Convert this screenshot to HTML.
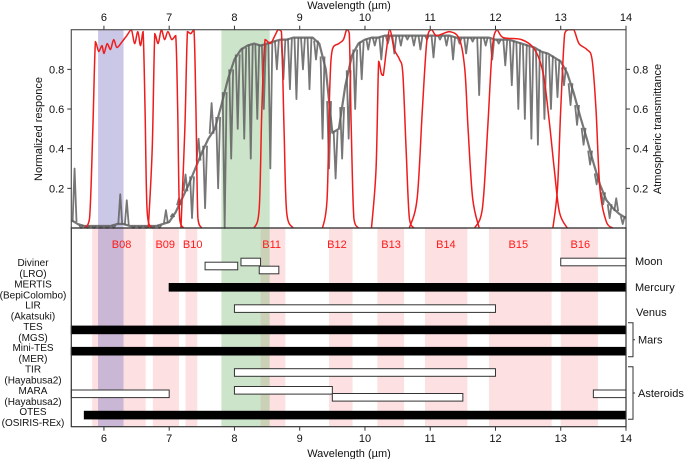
<!DOCTYPE html>
<html><head><meta charset="utf-8">
<style>
html,body{margin:0;padding:0;background:#fff;}
svg{display:block;font-family:"Liberation Sans",sans-serif;}
</style></head>
<body>
<svg id="chart" width="685" height="459" viewBox="0 0 685 459" xmlns="http://www.w3.org/2000/svg"></svg>
<script>
// ---- data ----
const xTicks = [6,7,8,9,10,11,12,13,14];
const yTicks = [0.2,0.4,0.6,0.8];
const bandNames = ["B08","B09","B10","B11","B12","B13","B14","B15","B16"];
const bandStart = [5.82,6.75,7.25,8.40,9.45,10.19,10.92,11.90,13.00];
const bandEnd   = [6.64,7.15,7.43,8.78,9.81,10.60,11.57,12.86,13.57];
const bandLabelX = [6.27,6.94,7.36,8.57,9.57,10.40,11.24,12.35,13.30];
const purpleBand = [5.91,6.30];
const greenBand = [7.80,8.54];

const atmWl = [5.5,5.6,5.7,5.8,5.9,6.0,6.1,6.2,6.3,6.4,6.5,6.6,6.7,6.8,6.9,7.0,7.1,7.2,7.3,7.4,7.5,7.6,7.7,7.8,7.9,8.0,8.1,8.2,8.3,8.4,8.5,8.6,8.7,8.8,8.9,9.0,9.1,9.2,9.3,9.4,9.5,9.6,9.7,9.8,9.9,10.0,10.1,10.2,10.3,10.4,10.5,10.6,10.7,10.8,10.9,11.0,11.1,11.2,11.3,11.4,11.5,11.6,11.7,11.8,11.9,12.0,12.1,12.2,12.3,12.4,12.5,12.6,12.7,12.8,12.9,13.0,13.1,13.2,13.3,13.4,13.5,13.6,13.7,13.8,13.9,14.0];
const atmHi = [0.04,0.02,0.01,0.01,0.01,0.01,0.01,0.02,0.02,0.01,0.01,0.01,0.01,0.01,0.02,0.03,0.08,0.15,0.22,0.30,0.38,0.45,0.50,0.62,0.75,0.85,0.90,0.92,0.93,0.92,0.93,0.94,0.95,0.95,0.96,0.96,0.96,0.96,0.93,0.80,0.48,0.50,0.72,0.87,0.93,0.95,0.96,0.96,0.97,0.97,0.97,0.97,0.97,0.97,0.97,0.97,0.97,0.97,0.97,0.96,0.96,0.96,0.96,0.96,0.96,0.95,0.95,0.95,0.94,0.93,0.92,0.91,0.89,0.88,0.86,0.84,0.78,0.68,0.56,0.45,0.33,0.22,0.14,0.10,0.07,0.05];
const atmLo = [0.30,0.00,0.00,0.00,0.00,0.00,0.00,0.17,0.14,0.00,0.00,0.00,0.00,0.00,0.09,0.07,0.15,0.27,0.05,0.45,0.10,0.63,0.20,0.00,0.35,0.50,0.45,0.35,0.55,0.60,0.30,0.80,0.75,0.70,0.65,0.80,0.70,0.85,0.45,0.30,0.25,0.35,0.45,0.60,0.75,0.90,0.92,0.85,0.93,0.88,0.92,0.95,0.92,0.90,0.95,0.86,0.95,0.92,0.85,0.93,0.88,0.94,0.67,0.92,0.85,0.93,0.82,0.72,0.60,0.55,0.45,0.42,0.55,0.60,0.66,0.72,0.62,0.52,0.42,0.32,0.22,0.12,0.05,0.15,0.02,0.12];

const filterB08 = [[5.70,0],[5.78,0.05],[5.83,0.5],[5.87,0.94],[5.92,0.89],[5.97,0.92],[6.0,0.88],[6.05,0.93],[6.1,0.9],[6.15,0.95],[6.2,0.91],[6.28,0.94],[6.35,0.97],[6.42,1.0],[6.47,0.93],[6.52,0.99],[6.56,0.92],[6.6,0.99],[6.63,0.6],[6.66,0.1],[6.72,0]];
const filterB09 = [[6.68,0],[6.74,0.4],[6.78,0.98],[6.83,0.93],[6.88,1.0],[6.93,0.95],[6.98,0.99],[7.04,0.95],[7.1,0.97],[7.13,0.6],[7.16,0.05],[7.22,0]];
const filterB10 = [[7.18,0],[7.24,0.5],[7.28,0.99],[7.33,0.98],[7.38,1.0],[7.41,0.6],[7.44,0.05],[7.5,0]];
const filterB11 = [[8.3,0],[8.38,0.1],[8.42,0.6],[8.47,0.95],[8.55,0.93],[8.62,0.97],[8.67,1.0],[8.72,0.99],[8.76,0.5],[8.8,0.08],[8.9,0]];
const filterB12 = [[9.35,0],[9.42,0.15],[9.46,0.7],[9.5,0.9],[9.6,0.93],[9.67,0.95],[9.72,1.0],[9.76,0.98],[9.79,0.5],[9.83,0.05],[9.9,0]];
const filterB13 = [[10.1,0],[10.17,0.3],[10.21,0.84],[10.25,0.78],[10.28,0.77],[10.33,0.9],[10.38,1.0],[10.45,0.9],[10.53,0.85],[10.58,0.78],[10.63,0.4],[10.68,0.05],[10.75,0]];
const filterB14 = [[10.68,0],[10.8,0.15],[10.88,0.6],[10.95,0.95],[11.02,1.0],[11.1,0.97],[11.3,0.99],[11.45,0.95],[11.53,0.8],[11.58,0.5],[11.65,0.15],[11.75,0]];
const filterB15 = [[11.68,0],[11.8,0.1],[11.88,0.5],[11.95,0.9],[12.02,1.0],[12.12,0.96],[12.4,0.95],[12.6,0.9],[12.73,0.78],[12.82,0.55],[12.9,0.3],[12.98,0.08],[13.1,0]];
const filterB16 = [[12.88,0],[12.95,0.2],[13.0,0.6],[13.06,0.98],[13.12,1.0],[13.2,1.0],[13.28,0.93],[13.4,0.9],[13.48,0.85],[13.54,0.6],[13.6,0.2],[13.7,0.03],[13.8,0]];
const filters = [filterB08,filterB09,filterB10,filterB11,filterB12,filterB13,filterB14,filterB15,filterB16];

const instNames = ["Diviner","MERTIS","LIR","TES","Mini-TES","TIR","MARA","OTES"];
const instHosts = ["(LRO)","(BepiColombo)","(Akatsuki)","(MGS)","(MER)","(Hayabusa2)","(Hayabusa2)","(OSIRIS-REx)"];
// [row, start, end, rowOffset(px from row center), filled]
const instRanges = [[0,7.55,8.05,0,0],[0,8.1,8.4,-4,0],[0,8.38,8.68,4,0],[0,13.0,14.0,-4,0],[1,7.0,14.0,0,1],[2,8.0,12.0,0,0],[3,5.5,14.0,0,1],[4,5.5,14.0,0,1],[5,8.0,12.0,0,0],[6,5.5,7.0,0,0],[6,8.0,9.5,-3.5,0],[6,9.5,11.5,3.5,0],[6,13.5,14.0,0,0],[7,5.7,14.0,0,1]];

// ---- layout ----
const L=71.3, R=626, T1=29.7, B1=228, B2=426.7;
const X0=5.5, X1=14;
const xs = v => L + (v-X0)/(X1-X0)*(R-L);
const ys = v => B1 - v*(B1-T1);
const rowY = i => 266 + i*21.3;
const NS="http://www.w3.org/2000/svg";
const svg=document.getElementById('chart');
function mk(tag,attrs,parent){const e=document.createElementNS(NS,tag);for(const k in attrs)e.setAttribute(k,attrs[k]);(parent||svg).appendChild(e);return e;}

// bands bottom panel
bandNames.forEach((n,i)=>{
  const r=mk('rect',{x:xs(bandStart[i]),y:B1,width:xs(bandEnd[i])-xs(bandStart[i]),height:B2-B1,fill:'#fde0e1'});
  
  
});
// purple & green bands full height
const pb=mk('rect',{x:xs(purpleBand[0]),y:T1,width:xs(purpleBand[1])-xs(purpleBand[0]),height:B2-T1,fill:'rgb(140,130,200)','fill-opacity':0.45});


const gb=mk('rect',{x:xs(greenBand[0]),y:T1,width:xs(greenBand[1])-xs(greenBand[0]),height:B2-T1,fill:'rgb(120,185,115)','fill-opacity':0.38});


bandNames.forEach((n,i)=>{
  const t=mk('text',{x:xs(bandLabelX[i]),y:248,'text-anchor':'middle','font-size':11,fill:'#ff1a1a'});
  t.textContent=n;
  
  
});

// atmosphere: upper envelope + absorption spikes
const atmG=mk('g',{stroke:'rgb(95,95,95)','stroke-opacity':0.85,fill:'none'});


mk('polyline',{points:atmWl.map((w,i)=>xs(w)+','+ys(atmHi[i])).join(' '),'stroke-width':2.2,'stroke-linejoin':'round'},atmG);
atmWl.forEach((w,i)=>{
  if(i>=atmWl.length-1)return;
  const h=(atmHi[i]+atmHi[i+1])/2, lo=atmLo[i];
  const xm=xs(w+0.05);
  mk('polyline',{points:`${xs(w+0.02)},${ys(h)} ${xm},${ys(lo)} ${xs(w+0.08)},${ys(h)}`,'stroke-width':1.8,'stroke-linejoin':'round'},atmG);
});

// filters (monotone-clamped cubic)
function smooth(p){let d='M'+xs(p[0][0])+','+ys(p[0][1]);for(let i=0;i<p.length-1;i++){const p0=p[Math.max(0,i-1)],p1=p[i],p2=p[i+1],p3=p[Math.min(p.length-1,i+2)];
 const ya=ys(p1[1]),yb=ys(p2[1]),lo=Math.min(ya,yb),hi=Math.max(ya,yb);const cl=v=>Math.max(lo,Math.min(hi,v));
 const c1x=xs(p1[0])+(xs(p2[0])-xs(p0[0]))/6,c1y=cl(ya+(ys(p2[1])-ys(p0[1]))/6);const c2x=xs(p2[0])-(xs(p3[0])-xs(p1[0]))/6,c2y=cl(yb-(ys(p3[1])-ys(p1[1]))/6);d+=' C'+c1x+','+c1y+' '+c2x+','+c2y+' '+xs(p2[0])+','+yb;}return d;}
filters.forEach((f,i)=>{
  const p=mk('path',{d:smooth(f),fill:'none',stroke:'#ee1c1c','stroke-width':1.5});
  
  
});

// instrument bars
instRanges.forEach(r=>{
  const y=rowY(r[0])+r[3];
  const b=mk('rect',{x:xs(r[1]),y:y-3.8,width:xs(r[2])-xs(r[1]),height:7.6,fill:r[4]?'#000':'#fff',stroke:r[4]?'#000':'#333','stroke-width':1});
  
  
});
instNames.forEach((n,i)=>{
  const t=mk('text',{x:33,y:rowY(i)+0,'text-anchor':'middle','font-size':10,fill:'#111'});
  t.textContent=n;
  
  
  const h=mk('text',{x:33,y:rowY(i)+11,'text-anchor':'middle','font-size':10,fill:'#111'});
  h.textContent=instHosts[i];
  
  
});

// frames
const f1=mk('rect',{x:L,y:T1,width:R-L,height:B1-T1,fill:'none',stroke:'#555','stroke-width':1.2});


const f2=mk('rect',{x:L,y:B1,width:R-L,height:B2-B1,fill:'none',stroke:'#333','stroke-width':1.2});



// x ticks
xTicks.forEach(v=>{
  mk('line',{x1:xs(v),x2:xs(v),y1:T1,y2:T1-4,stroke:'#333'});
  const t=mk('text',{x:xs(v),y:21,'text-anchor':'middle','font-size':11,fill:'#111'});t.textContent=v;
  
  
  mk('line',{x1:xs(v),x2:xs(v),y1:B2,y2:B2+4,stroke:'#333'});
  const b=mk('text',{x:xs(v),y:442,'text-anchor':'middle','font-size':11,fill:'#111'});b.textContent=v;
  
  
});
// y ticks
yTicks.forEach(v=>{
  mk('line',{x1:L,x2:L-4,y1:ys(v),y2:ys(v),stroke:'#333'});
  mk('line',{x1:R,x2:R+4,y1:ys(v),y2:ys(v),stroke:'#333'});
  const t=mk('text',{x:L-7,y:ys(v)+4,'text-anchor':'end','font-size':11,fill:'#111'});t.textContent=v.toFixed(1);
  
  
  const r=mk('text',{x:R+7,y:ys(v)+4,'text-anchor':'start','font-size':11,fill:'#111'});r.textContent=v.toFixed(1);
  
  
});
// titles
const tt=mk('text',{x:349,y:9,'text-anchor':'middle','font-size':11,fill:'#111'});tt.textContent='Wavelength (µm)';


const bt=mk('text',{x:349,y:457,'text-anchor':'middle','font-size':11,fill:'#111'});bt.textContent='Wavelength (µm)';


const yl=mk('text',{x:0,y:0,'text-anchor':'middle','font-size':11,fill:'#111',transform:'translate(42,129) rotate(-90)'});yl.textContent='Normalized responce';


const yr=mk('text',{x:0,y:0,'text-anchor':'middle','font-size':11,fill:'#111',transform:'translate(661,129) rotate(-90)'});yr.textContent='Atmospheric transmittance';



// target labels
[['Moon',635,265],['Mercury',635,291],['Venus',636,316]].forEach(a=>{
  const t=mk('text',{x:a[1],y:a[2],'font-size':11,fill:'#111'});t.textContent=a[0];
  
  
});
function bracket(y1,y2,label,name){
  mk('path',{d:`M628,${y1} H633 V${y2} H628 M633,${(y1+y2)/2} H635`,fill:'none',stroke:'#333','stroke-width':1});
  const t=mk('text',{x:638,y:(y1+y2)/2+4,'font-size':11,fill:'#111'});t.textContent=label;
  
  
}
bracket(322.7,356.7,'Mars','target-label-mars');
bracket(366.7,419.3,'Asteroids','target-label-asteroids');
</script>
</body></html>
